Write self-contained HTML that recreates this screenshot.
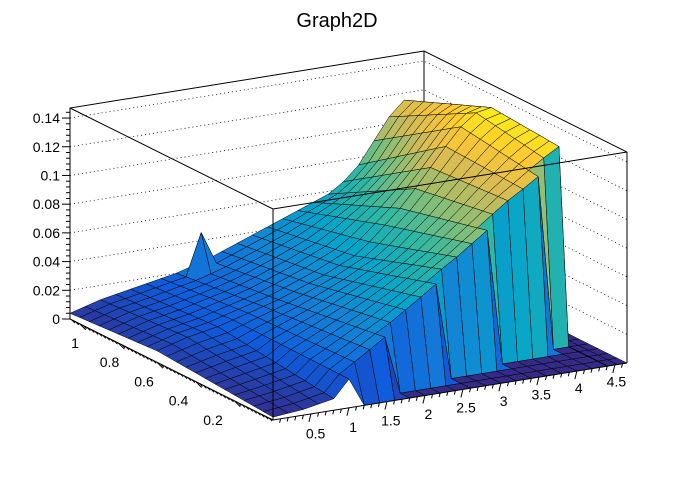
<!DOCTYPE html>
<html><head><meta charset="utf-8"><style>
body{margin:0;background:#fff;}
svg text{font-family:"Liberation Sans",sans-serif;}
</style></head><body>
<svg id="chart" width="696" height="472" viewBox="0 0 696 472" xmlns="http://www.w3.org/2000/svg">
<rect width="696" height="472" fill="#fff"/>
<text x="337" y="27" font-size="20" text-anchor="middle">Graph2D</text>
<g id="walls"></g>
<g id="surf"></g>
<g id="frame"></g>
<g id="axes"></g>
</svg>
<script>
// data columns (x), cutoff in y, z at cutoff/front, middle (y=0.6) and back (y=1.05)
const xs    = [0,0.2,0.4,0.6,0.8,1.0,1.2,1.4,1.6,1.8,2.0,2.2,2.4,2.6,2.8,3.0,3.2,3.4,3.6,3.8,4.0,4.2,4.4];
const cutY  = [0,0,0,0,0,0,0.013,0.026,0.039,0.052,0.065,0.078,0.091,0.104,0.117,0.13,0.143,0.156,0.169,0.182,0.195,0.208,0.221];
const zFront= [0.002,0.003,0.004,0.006,0.008,0.02,0.027,0.034,0.041,0.047,0.054,0.061,0.068,0.075,0.081,0.088,0.095,0.102,0.109,0.115,0.122,0.129,0.136];
const zMid  = [0.008,0.011,0.014,0.016,0.018,0.021,0.024,0.027,0.03,0.034,0.038,0.042,0.047,0.052,0.06,0.07,0.08,0.092,0.105,0.118,0.13,0.138,0.14];
const zBack = [0.004,0.007,0.01,0.012,0.014,0.016,0.018,0.02,0.023,0.026,0.03,0.034,0.038,0.042,0.046,0.05,0.054,0.058,0.065,0.075,0.09,0.105,0.115];
const ys    = [0,0.05,0.1,0.15,0.2,0.25,0.3,0.35,0.4,0.45,0.5,0.55,0.6,0.65,0.7,0.75,0.8,0.85,0.9,0.95,1.0,1.05];
const spikeX = [1.6]; const spikeY = [1.0]; const spikeZ = [0.05];
const zTicks = [0,0.02,0.04,0.06,0.08,0.1,0.12,0.14];
const zTickLabels = ["0","0.02","0.04","0.06","0.08","0.1","0.12","0.14"];
const xTicks = [0.5,1,1.5,2,2.5,3,3.5,4,4.5];
const xTickLabels = ["0.5","1","1.5","2","2.5","3","3.5","4","4.5"];
const yTicks = [0.2,0.4,0.6,0.8,1];
const yTickLabels = ["0.2","0.4","0.6","0.8","1"];

const XMAX=4.66, YMAX=1.05, ZMAX=0.147;
const O=[273,420], EX=[354/XMAX,-57/XMAX], EY=[-203/YMAX,-101/YMAX], EZ=-211/ZMAX;
function P(x,y,z){return [O[0]+EX[0]*x+EY[0]*y, O[1]+EX[1]*x+EY[1]*y+EZ*z];}
const NS="http://www.w3.org/2000/svg";
function mk(tag,attrs,parent){const e=document.createElementNS(NS,tag);for(const k in attrs)e.setAttribute(k,attrs[k]);parent.appendChild(e);return e;}
const walls=document.getElementById('walls'),surf=document.getElementById('surf'),frame=document.getElementById('frame'),axes=document.getElementById('axes');
function pts(a){return a.map(p=>p[0].toFixed(1)+','+p[1].toFixed(1)).join(' ');}

const A=P(0,YMAX,0),B=P(XMAX,YMAX,0),C=P(XMAX,0,0);
const w1=mk('polygon',{points:pts([A,B,P(XMAX,YMAX,ZMAX),P(0,YMAX,ZMAX)]),fill:'#fff',stroke:'none'},walls);

zTicks.forEach(v=>{
  if(v===0)return;
  const l1=mk('polyline',{points:pts([P(0,YMAX,v),P(XMAX,YMAX,v),P(XMAX,0,v)]),fill:'none',stroke:'#000','stroke-width':0.8,'stroke-dasharray':'1,3'},walls);
  
});
const wl=mk('polyline',{points:pts([P(0,YMAX,0),P(0,YMAX,ZMAX),P(XMAX,YMAX,ZMAX),P(XMAX,0,ZMAX),P(XMAX,0,0)]),fill:'none',stroke:'#000','stroke-width':1},walls);

const bv=mk('line',{x1:P(XMAX,YMAX,0)[0],y1:P(XMAX,YMAX,0)[1],x2:P(XMAX,YMAX,ZMAX)[0],y2:P(XMAX,YMAX,ZMAX)[1],stroke:'#000','stroke-width':1},walls);


const stops=[[0,[53,42,135]],[0.125,[15,92,221]],[0.25,[20,129,214]],[0.375,[6,164,202]],[0.5,[46,183,164]],[0.625,[135,191,119]],[0.75,[209,187,89]],[0.875,[254,200,50]],[1,[249,251,14]]];
function col(t){t=Math.max(0,Math.min(1,t));for(let i=1;i<stops.length;i++){if(t<=stops[i][0]){const a=stops[i-1],b=stops[i],f=(t-a[0])/(b[0]-a[0]);return 'rgb('+[0,1,2].map(k=>Math.round(a[1][k]+(b[1][k]-a[1][k])*f)).join(',')+')';}}return 'rgb(249,251,14)';}

const gx=xs.concat([4.41,4.53,4.66]);
function zAt(i,j){
  if(i>=xs.length)return 0;
  const y=ys[j];
  if(y<cutY[i]-1e-9)return 0;
  for(let s=0;s<spikeX.length;s++){if(Math.abs(xs[i]-spikeX[s])<0.01&&Math.abs(y-spikeY[s])<0.01)return spikeZ[s];}
  if(y<=0.6){const f=(y-cutY[i])/(0.6-cutY[i]);return zFront[i]+(zMid[i]-zFront[i])*f;}
  const f=(y-0.6)/(YMAX-0.6);return zMid[i]+(zBack[i]-zMid[i])*f;
}
const cells=[];
for(let i=0;i<gx.length-1;i++)for(let j=0;j<ys.length-1;j++){
  const z00=zAt(i,j),z10=zAt(i+1,j),z11=zAt(i+1,j+1),z01=zAt(i,j+1);
  const cx=(gx[i]+gx[i+1])/2,cy=(ys[j]+ys[j+1])/2;
  cells.push({d:P(cx,cy,0)[1],poly:[P(gx[i],ys[j],z00),P(gx[i+1],ys[j],z10),P(gx[i+1],ys[j+1],z11),P(gx[i],ys[j+1],z01)],z:(z00+z10+z11+z01)/4});
}
cells.sort((a,b)=>a.d-b.d);
cells.forEach(c=>{
  const p=mk('polygon',{points:pts(c.poly),fill:col(c.z/0.145),stroke:'#000','stroke-width':0.5,'stroke-linejoin':'round'},surf);
  
  
});

const fr=mk('polyline',{points:pts([P(0,YMAX,ZMAX),P(0,0,ZMAX),P(XMAX,0,ZMAX)]),fill:'none',stroke:'#000','stroke-width':1},frame);

const fv=mk('line',{x1:P(0,0,0)[0],y1:P(0,0,0)[1],x2:P(0,0,ZMAX)[0],y2:P(0,0,ZMAX)[1],stroke:'#000','stroke-width':1},frame);

const fb=mk('polyline',{points:pts([A,P(0,0,0),C]),fill:'none',stroke:'#000','stroke-width':1},frame);

const za=mk('line',{x1:A[0],y1:A[1],x2:A[0],y2:P(0,YMAX,ZMAX)[1],stroke:'#000','stroke-width':1},frame);


for(let k=0;k<=36;k++){const v=k*0.004;if(v>ZMAX)break;const p=P(0,YMAX,v);const major=(k%5===0);
  const t=mk('line',{x1:p[0],y1:p[1],x2:p[0]-(major?8:4),y2:p[1],stroke:'#000','stroke-width':1},axes);
  }
zTicks.forEach((v,k)=>{const p=P(0,YMAX,v);
  const t=mk('text',{x:p[0]-10,y:p[1]+5,'font-size':14,'text-anchor':'end'},axes);t.textContent=zTickLabels[k];
  });
for(let k=1;k<=46;k++){const v=k*0.1;if(v>XMAX)break;const p=P(v,0,0);const major=(k%5===0);
  const t=mk('line',{x1:p[0],y1:p[1],x2:p[0]+(major?-2:-1),y2:p[1]+(major?8:4),stroke:'#000','stroke-width':1},axes);
  }
xTicks.forEach((v,k)=>{
  const t=mk('text',{x:278+75.2*v,y:445-13*v,'font-size':14,'text-anchor':'middle'},axes);t.textContent=xTickLabels[k];
  });
for(let k=1;k<=52;k++){const v=k*0.02;if(v>YMAX)break;const p=P(0,v,0);const major=(k%10===0);
  const t=mk('line',{x1:p[0],y1:p[1],x2:p[0]+(major?6:3),y2:p[1]+(major?6:3),stroke:'#000','stroke-width':1},axes);
  }
yTicks.forEach((v,k)=>{
  const t=mk('text',{x:247.5-172.5*v,y:444-96*v,'font-size':14,'text-anchor':'middle'},axes);t.textContent=yTickLabels[k];
  });
</script>
</body></html>
